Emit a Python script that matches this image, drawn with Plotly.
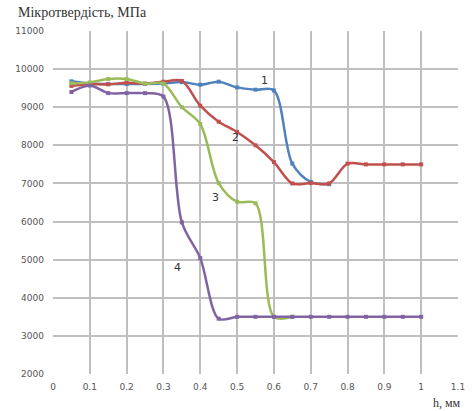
import plotly.graph_objects as go

# Depth h, mm
h = [0.05, 0.1, 0.15, 0.2, 0.25, 0.3, 0.35, 0.4, 0.45, 0.5,
     0.55, 0.6, 0.65, 0.7, 0.75, 0.8, 0.85, 0.9, 0.95, 1.0]

# Microhardness, MPa
s1 = [9680, 9620, 9610, 9610, 9610, 9620, 9660, 9590, 9670, 9520,
      9460, 9440, 7520, 7040, 6980]
s2 = [9560, 9600, 9600, 9640, 9620, 9670, 9690, 9040, 8620, 8350,
      8000, 7560, 7000, 7010, 7000, 7520, 7500, 7500, 7500, 7500]
s3 = [9630, 9650, 9740, 9740, 9620, 9620, 9000, 8560, 7010, 6520,
      6480, 3500, 3500]
s4 = [9400, 9570, 9370, 9370, 9370, 9280, 5980, 5040, 3450, 3500,
      3500, 3500, 3500, 3500, 3500, 3500, 3500, 3500, 3500, 3500]

series = [("1", s1, "#4F81BD"), ("2", s2, "#C0504D"),
          ("3", s3, "#9BBB59"), ("4", s4, "#8064A2")]

# curve label positions (data coords)
label_x = [0.574, 0.496, 0.44, 0.337]
label_y = [9710, 8205, 6640, 4800]

x_ticks = [0, 0.1, 0.2, 0.3, 0.4, 0.5, 0.6, 0.7, 0.8, 0.9, 1, 1.1]
x_ticktext = ["0", "0.1", "0.2", "0.3", "0.4", "0.5", "0.6", "0.7", "0.8", "0.9", "1", "1.1"]
y_ticks = [2000, 3000, 4000, 5000, 6000, 7000, 8000, 9000, 10000, 11000]
y_ticktext = ["2000", "3000", "4000", "5000", "6000", "7000", "8000", "9000", "10000", "11000"]

SERIF = "Liberation Serif, Times New Roman, DejaVu Serif, serif"
SANS = "DejaVu Sans, Verdana, sans-serif"

fig = go.Figure()
for name, vals, col in series:
    fig.add_trace(go.Scatter(
        x=h[:len(vals)], y=vals, name=name, mode="lines+markers",
        line=dict(color=col, width=2.5, shape="spline", smoothing=0.9),
        marker=dict(symbol="square", size=4, color=col),
        showlegend=False,
    ))

for (name, _, _), lx, ly in zip(series, label_x, label_y):
    fig.add_annotation(x=lx, y=ly, text=name, showarrow=False,
                       font=dict(family=SANS, size=11, color="#333333"))

fig.add_annotation(xref="paper", yref="paper", x=-0.091, y=1.054,
                   xanchor="left", yanchor="middle", showarrow=False,
                   text="Мікротвердість, МПа",
                   font=dict(family=SERIF, size=14, color="#333333"))
fig.add_annotation(xref="paper", yref="paper", x=1.012, y=-0.086,
                   xanchor="right", yanchor="middle", showarrow=False,
                   text="h, мм",
                   font=dict(family=SERIF, size=12, color="#333333"))

fig.update_layout(
    width=475, height=411,
    margin=dict(l=52.5, r=10, t=30.7, b=36.7),
    paper_bgcolor="white", plot_bgcolor="white",
    xaxis=dict(range=[0, 1.1], tickvals=x_ticks, ticktext=x_ticktext,
               showgrid=True, gridcolor="#BFBFBF", gridwidth=1.5,
               zeroline=False, showline=False, ticks="",
               ticklabelstandoff=6,
               tickfont=dict(family=SANS, size=9, color="#555555")),
    yaxis=dict(range=[2000, 11000], tickvals=y_ticks, ticktext=y_ticktext,
               showgrid=True, gridcolor="#BFBFBF", gridwidth=1.5,
               zeroline=False, showline=False, ticks="",
               ticklabelstandoff=8,
               tickfont=dict(family=SANS, size=9, color="#555555")),
)

fig.write_html("out.html", config={"displayModeBar": False})

# remove default page margin so the figure sits at the window's top-left
with open("out.html", "r", encoding="utf-8") as f:
    page = f.read()
page = page.replace("<head>", "<head><style>html,body{margin:0;padding:0;overflow:hidden;}</style>", 1)
with open("out.html", "w", encoding="utf-8") as f:
    f.write(page)
